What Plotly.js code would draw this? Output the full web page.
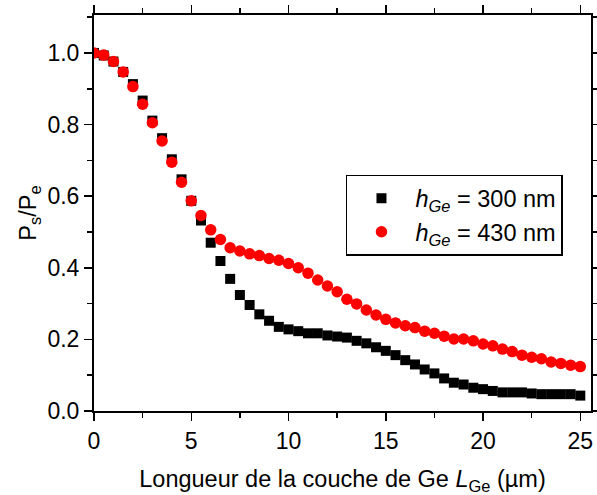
<!DOCTYPE html>
<html>
<head>
<meta charset="utf-8">
<script src="https://cdn.plot.ly/plotly-3.0.1.min.js"></script>
<style>html,body{margin:0;padding:0;background:#fff;}#chart{width:597px;height:495px;}</style>
</head>
<body>
<div id="chart"></div>
<script>
var xLength = [0,0.5,1,1.5,2,2.5,3,3.5,4,4.5,5,5.5,6,6.5,7,7.5,8,8.5,9,9.5,10,10.5,11,11.5,12,12.5,13,13.5,14,14.5,15,15.5,16,16.5,17,17.5,18,18.5,19,19.5,20,20.5,21,21.5,22,22.5,23,23.5,24,24.5,25];
var ratio300 = [1.0,0.993,0.976,0.947,0.913,0.867,0.811,0.762,0.703,0.647,0.587,0.532,0.470,0.419,0.369,0.324,0.296,0.270,0.252,0.235,0.228,0.223,0.217,0.217,0.211,0.208,0.205,0.196,0.189,0.178,0.168,0.156,0.142,0.130,0.116,0.105,0.091,0.079,0.074,0.065,0.061,0.056,0.052,0.052,0.052,0.049,0.047,0.047,0.047,0.047,0.043];
var ratio430 = [1.0,0.994,0.976,0.947,0.906,0.857,0.805,0.754,0.695,0.639,0.587,0.546,0.506,0.479,0.456,0.447,0.439,0.434,0.426,0.421,0.412,0.400,0.385,0.366,0.349,0.333,0.312,0.299,0.282,0.268,0.256,0.246,0.238,0.233,0.223,0.217,0.209,0.201,0.201,0.196,0.187,0.182,0.173,0.166,0.156,0.150,0.146,0.137,0.133,0.128,0.124];
var seriesNames = ['<i>h</i><sub><i>Ge</i></sub> = 300 nm', '<i>h</i><sub><i>Ge</i></sub> = 430 nm'];

var FONT = 'Arial, "Liberation Sans", sans-serif';

var traces = [
  {x: xLength, y: ratio300, type: 'scatter', mode: 'markers', name: seriesNames[0],
   marker: {symbol: 'square', size: 10, color: '#000000'}},
  {x: xLength, y: ratio430, type: 'scatter', mode: 'markers', name: seriesNames[1],
   marker: {symbol: 'circle', size: 11.5, color: '#ff0000'}}
];

var axisCommon = {
  showgrid: false, zeroline: false, showline: true, linecolor: '#000', linewidth: 2,
  mirror: 'allticks', ticks: 'outside', ticklen: 8, tickwidth: 1.5, tickcolor: '#000',
  tickfont: {family: FONT, size: 23, color: '#000'}
};

var layout = {
  width: 597, height: 495,
  margin: {l: 94, r: 4, t: 15, b: 84},
  paper_bgcolor: '#fff', plot_bgcolor: '#fff',
  font: {family: FONT, size: 23, color: '#000'},
  showlegend: true,
  legend: {x: 0.507, y: 0.596, xanchor: 'left', yanchor: 'top',
           bordercolor: '#000', borderwidth: 1.5, bgcolor: '#fff',
           font: {family: FONT, size: 23.5, color: '#000'}, itemwidth: 58, tracegroupgap: 0},
  xaxis: Object.assign({}, axisCommon, {
    range: [0, 25.55], tick0: 0, dtick: 5, automargin: true,
    minor: {dtick: 2.5, ticks: 'outside', ticklen: 5, tickwidth: 1.5, tickcolor: '#000'},
    title: {text: 'Longueur de la couche de Ge <i>L</i><sub>Ge</sub> (µm)', font: {family: FONT, size: 23.5, color: '#000'}, standoff: 18}
  }),
  yaxis: Object.assign({}, axisCommon, {
    range: [0, 1.106], tick0: 0, dtick: 0.2, tickformat: '.1f',
    minor: {dtick: 0.1, ticks: 'outside', ticklen: 5, tickwidth: 1.5, tickcolor: '#000'},
    title: {text: 'P<sub>s</sub>/P<sub>e</sub>', font: {family: FONT, size: 23.5, color: '#000'}}
  })
};

Plotly.newPlot('chart', traces, layout, {displayModeBar: false, staticPlot: true});
</script>
</body>
</html>
